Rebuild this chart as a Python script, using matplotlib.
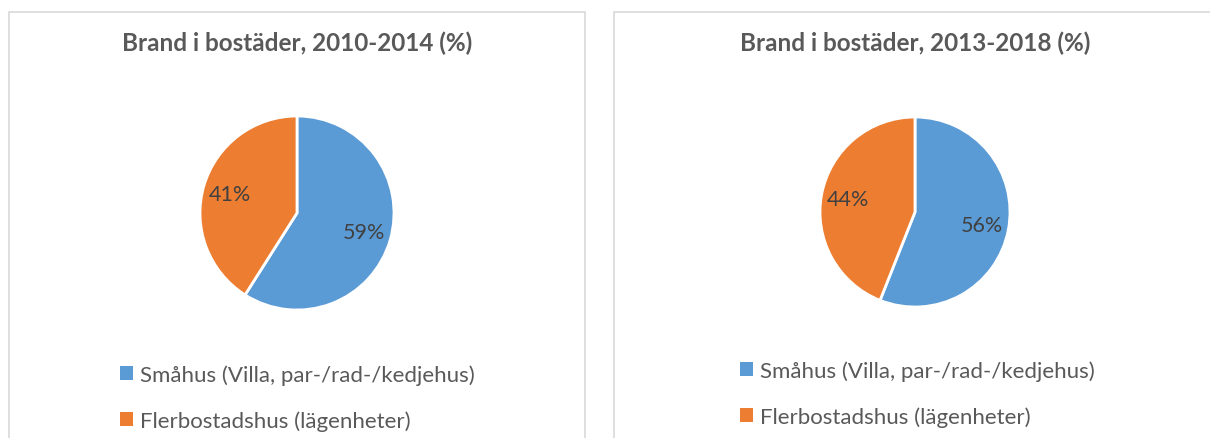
import matplotlib
matplotlib.use("Agg")
import matplotlib.pyplot as plt
from matplotlib.patches import Rectangle, Patch

categories = ["Småhus (Villa, par-/rad-/kedjehus)", "Flerbostadshus (lägenheter)"]
values_2010_2014 = [59, 41]
values_2013_2018 = [56, 44]
titles = ["Brand i bostäder, 2010-2014 (%)", "Brand i bostäder, 2013-2018 (%)"]
colors = ["#5B9BD5", "#ED7D31"]

W, H = 1210, 439
fig = plt.figure(figsize=(W / 100, H / 100), dpi=100)
fig.patch.set_facecolor("white")
plt.rcParams['font.family'] = ['Lato', 'DejaVu Sans']

def px_box(x0, y0, x1, y1):
    return [x0 / W, 1 - y1 / H, (x1 - x0) / W, (y1 - y0) / H]

# panel borders
for (x0, y0, x1, y1) in [(9, 13, 585, 445), (614, 13, 1215, 445)]:
    fig.patches.append(Rectangle((x0 / W, 1 - y1 / H), (x1 - x0) / W, (y1 - y0) / H,
                                 transform=fig.transFigure, fill=False,
                                 edgecolor="#D9D9D9", linewidth=1.2))

panels = [
    dict(vals=values_2010_2014, title=titles[0], cx=297, cy=214, r=97, tx=297, legx=120, legy=365),
    dict(vals=values_2013_2018, title=titles[1], cx=915, cy=213, r=95, tx=915, legx=740, legy=361),
]

for p in panels:
    ax = fig.add_axes(px_box(p["cx"] - p["r"], p["cy"] - p["r"], p["cx"] + p["r"], p["cy"] + p["r"]))
    wedges, texts, autotexts = ax.pie(
        p["vals"], colors=colors, startangle=90, counterclock=False,
        autopct=lambda v: f"{v:.0f}%", pctdistance=0.72,
        wedgeprops=dict(edgecolor="white", linewidth=2),
        textprops=dict(color="#404040", fontsize=15.5))
    ax.set_xlim(-1.0, 1.0)
    ax.set_ylim(-1.0, 1.0)
    ax.set_aspect("equal")
    ax.axis("off")
    fig.text(p["tx"] / W, 1 - 43 / H, p["title"], ha="center", va="center",
             fontsize=17.5, fontweight="bold", color="#595959")
    handles = [Patch(facecolor=c, edgecolor="none") for c in colors]
    fig.legend(handles, categories, loc="upper left",
               bbox_to_anchor=(p["legx"] / W, 1 - p["legy"] / H),
               frameon=False, fontsize=16, labelcolor="#595959",
               handlelength=0.6, handleheight=0.6, handletextpad=0.3,
               labelspacing=1.15, borderpad=0, borderaxespad=0)

fig.savefig("out.png", dpi=100, facecolor="white")
